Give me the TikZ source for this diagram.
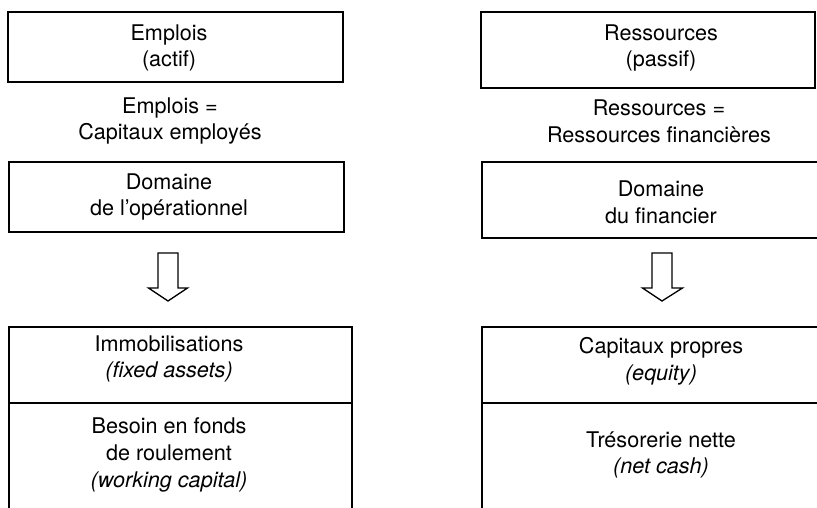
\documentclass[tikz,border=0pt]{standalone}
\usepackage{fontspec}
\setmainfont{TeX Gyre Heros}
\begin{document}
\begin{tikzpicture}[x=1pt,y=-1pt,
  boxline/.style={draw=black,line width=1.3pt},
  txt/.style={align=center,inner sep=0pt,font=\fontsize{21.6}{26.8}\selectfont},
  blockarrow/.style={draw=black,line width=1.3pt,fill=white,line join=miter}]
\useasboundingbox (0,0) rectangle (817,508);
% top boxes
\draw[boxline] (8,12) rectangle (343,82);
\draw[boxline] (481,12) rectangle (815,88);
% domain boxes
\draw[boxline] (9,162) rectangle (344,232);
\draw[boxline] (482,162) rectangle (822,238);
% bottom boxes (open at bottom)
\draw[boxline] (9,520) -- (9,327) -- (352,327) -- (352,520);
\draw[boxline] (9,403) -- (352,403);
\draw[boxline] (482,520) -- (482,327) -- (830,327);
\draw[boxline] (482,403) -- (830,403);
% block arrows
\draw[blockarrow] (158,253) -- (178,253) -- (178,288) -- (187.5,288) -- (168,301) -- (148.5,288) -- (158,288) -- cycle;
\draw[blockarrow] (652,253) -- (672,253) -- (672,288) -- (682.5,288) -- (662,301) -- (642.5,288) -- (652,288) -- cycle;
% texts left
\node[txt] (emp) at (169,48) {Emplois\\(actif)};
\node[txt] (empeq) at (170,121) {Emplois =\\Capitaux employés};
\node[txt] (dop) at (169,197) {Domaine\\de l’opérationnel};
\node[txt] (imm) at (169,359) {Immobilisations\\\textit{(fixed assets)}};
\node[txt] (bfr) at (169,455) {Besoin en fonds\\de roulement\\\textit{(working capital)}};
% texts right
\node[txt] (res) at (661,48) {Ressources\\(passif)};
\node[txt] (reseq) at (659,121) {Ressources =\\Ressources financières};
\node[txt] (dfin) at (661,202) {Domaine\\du financier};
\node[txt] (cp) at (661,361) {Capitaux propres\\\textit{(equity)}};
\node[txt] (tn) at (661,455) {Trésorerie nette\\\textit{(net cash)}};
\end{tikzpicture}
\end{document}
